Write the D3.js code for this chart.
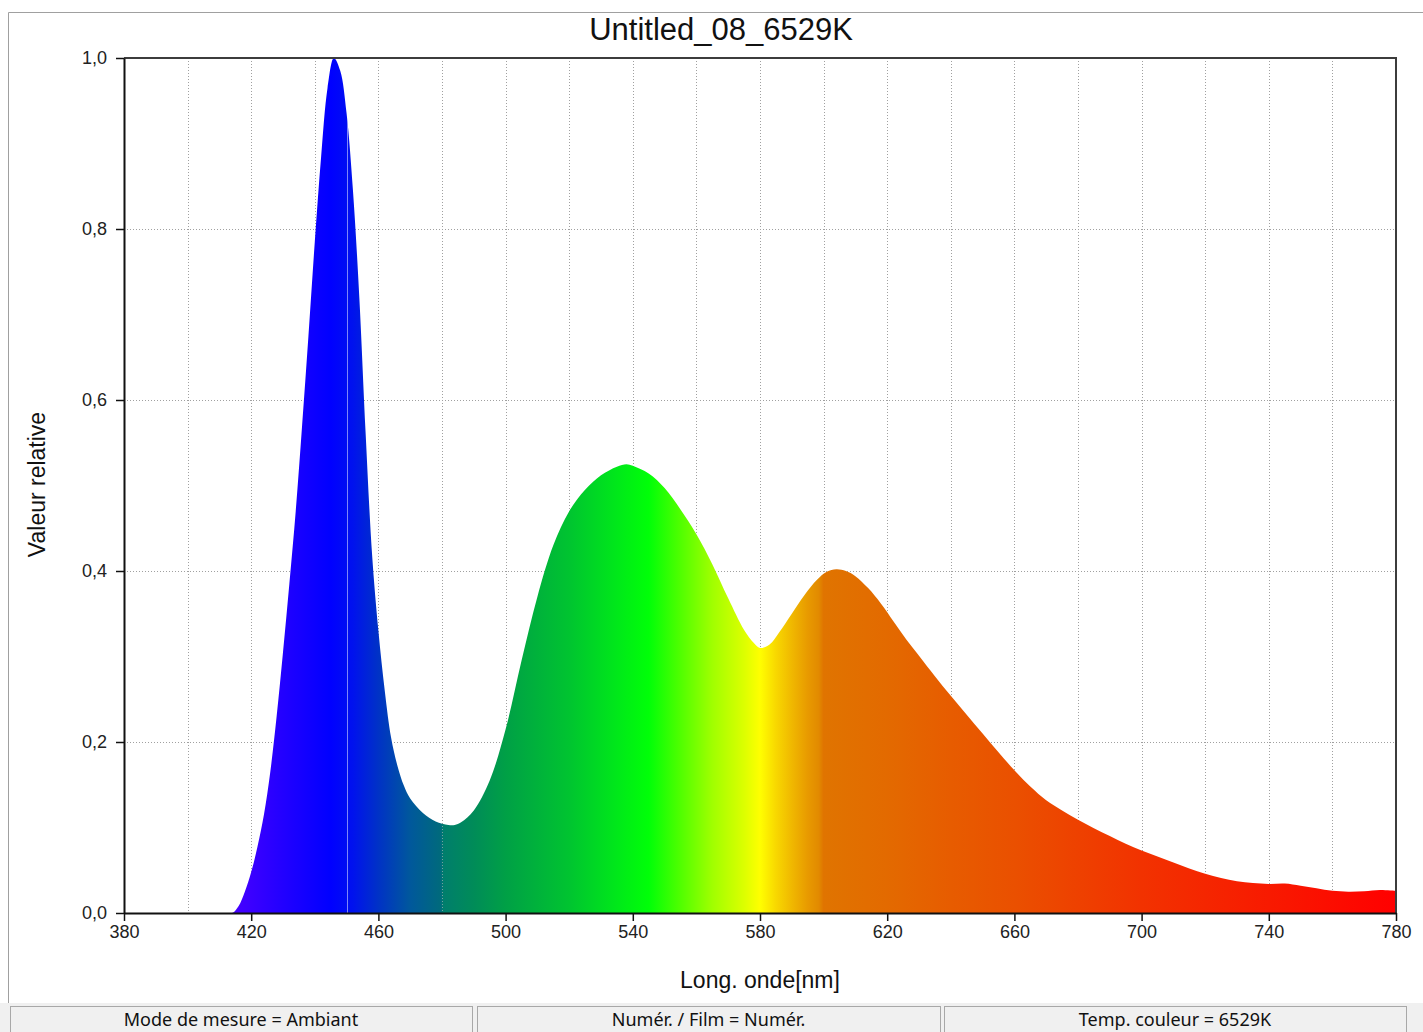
<!DOCTYPE html>
<html>
<head>
<meta charset="utf-8">
<script src="https://cdn.jsdelivr.net/npm/d3@7"></script>
<style>
  html, body { margin: 0; padding: 0; background: #fff; }
  svg { display: block; }
</style>
</head>
<body>
<svg id="chart" width="1423" height="1032"></svg>
<script>
// Spectral power distribution, relative to the blue peak
const wavelengths = [
  380, 400, 410, 414, 416, 418, 420, 422, 424, 426, 428, 430, 432, 434, 436, 438, 440,
  442, 444, 446, 448, 450, 452, 454, 456, 458, 460, 462, 464, 466, 468, 470,
  474, 478, 482, 484, 486, 490, 495, 500, 505, 510, 515, 520, 525, 530, 535, 538,
  540, 545, 550, 555, 560, 565, 570, 575, 578, 580, 583, 586, 590, 594, 598, 601,
  604, 607, 610, 614, 618, 622, 626, 630, 635, 640, 645, 650, 655, 660, 665, 670,
  675, 680, 685, 690, 695, 700, 705, 710, 715, 720, 725, 730, 735, 740, 745, 750,
  755, 760, 765, 770, 775, 780
];
const relativeValues = [
  0, 0, 0, 0, 0.008, 0.025, 0.048, 0.078, 0.115, 0.165, 0.23, 0.305, 0.385, 0.47, 0.57, 0.675, 0.785,
  0.885, 0.965, 1.0, 0.985, 0.935, 0.845, 0.72, 0.56, 0.42, 0.33, 0.26, 0.205, 0.172, 0.149, 0.134,
  0.117, 0.107, 0.103, 0.103, 0.106, 0.12, 0.155, 0.215, 0.295, 0.37, 0.43, 0.47, 0.495, 0.512, 0.522, 0.525,
  0.523, 0.514, 0.497, 0.472, 0.443, 0.408, 0.368, 0.331, 0.316, 0.31, 0.314, 0.328, 0.35, 0.372, 0.39, 0.399,
  0.402, 0.4, 0.394, 0.38, 0.362, 0.341, 0.32, 0.301, 0.277, 0.254, 0.232, 0.21, 0.188, 0.167, 0.148, 0.132,
  0.12, 0.109, 0.099, 0.09, 0.081, 0.073, 0.066, 0.059, 0.052, 0.046, 0.041, 0.037, 0.035, 0.034, 0.0345, 0.032,
  0.029, 0.026, 0.025, 0.0255, 0.027, 0.026
];

const xTickValues = [380, 420, 460, 500, 540, 580, 620, 660, 700, 740, 780];
const xGridValues = [400, 420, 440, 460, 480, 500, 520, 540, 560, 580, 600, 620, 640, 660, 680, 700, 720, 740, 760];
const yTickValues = [0, 0.2, 0.4, 0.6, 0.8, 1.0];
const yGridValues = [0.2, 0.4, 0.6, 0.8];

const chartTitle = "Untitled_08_6529K";
const xAxisTitle = "Long. onde[nm]";
const yAxisTitle = "Valeur relative";
const statusItems = ["Mode de mesure = Ambiant", "Numér. / Film = Numér.", "Temp. couleur = 6529K"];

// Visible-spectrum colour ramp used to fill the curve
const rampWavelengths = [380, 414, 420, 430, 445, 452, 460, 470, 479.5, 480.5, 490, 500, 520, 535, 545, 555, 565, 575, 580, 585, 590, 595, 598.5, 600, 620, 640, 660, 700, 740, 780];
const rampColors = ["#6000ff", "#4800ff", "#3a00ff", "#2200ff", "#0000ff", "#0012ee", "#0032c6", "#00589c", "#006a7c", "#007e6c", "#008c58", "#00a046", "#00c430", "#00e81a", "#00ff08", "#50ff00", "#a0ff00", "#dcff00", "#ffff00", "#f8d800", "#f0b800", "#e89a00", "#e28a00", "#e07400", "#e36a00", "#e75c00", "#ea5000", "#f23200", "#f81a00", "#ff0000"];

const svg = d3.select("#chart");
const W = 1423, H = 1032;
const plot = { left: 124, right: 1396, top: 58, bottom: 913 };

const x = d3.scaleLinear().domain([380, 780]).range([plot.left, plot.right]);
const y = d3.scaleLinear().domain([0, 1]).range([plot.bottom, plot.top]);

const series = wavelengths.map((w, i) => [w, relativeValues[i]]);
const fmt = v => d3.format(".1f")(v).replace(".", ",");
const chartFont = "'Liberation Sans', Arial, sans-serif";

// Outer window frame
svg.append("line").attr("x1", 8.5).attr("x2", W).attr("y1", 12.5).attr("y2", 12.5)
  .attr("stroke", "#a0a0a0").attr("stroke-width", 1);
svg.append("line").attr("x1", 8.5).attr("x2", 8.5).attr("y1", 12.5).attr("y2", 1004)
  .attr("stroke", "#a0a0a0").attr("stroke-width", 1);

// Gradient definition
const defs = svg.append("defs");
const grad = defs.append("linearGradient").attr("id", "spectrum")
  .attr("gradientUnits", "userSpaceOnUse")
  .attr("x1", x(380)).attr("x2", x(780)).attr("y1", 0).attr("y2", 0);
rampWavelengths.forEach((w, i) => {
  grad.append("stop").attr("offset", (w - 380) / 400).attr("stop-color", rampColors[i]);
});

const area = d3.area()
  .x(d => x(d[0]))
  .y0(y(0))
  .y1(d => Math.min(y(0), y(d[1])))
  .curve(d3.curveCatmullRom.alpha(0.5));

defs.append("clipPath").attr("id", "areaClip")
  .append("path").attr("d", area(series));

// Grid
const grid = svg.append("g").attr("stroke", "#a0a0a0").attr("stroke-width", 1)
  .attr("stroke-dasharray", "1,2");
grid.selectAll("line.v").data(xGridValues).join("line").attr("class", "v")
  .attr("x1", d => Math.round(x(d)) + 0.5).attr("x2", d => Math.round(x(d)) + 0.5)
  .attr("y1", plot.top).attr("y2", plot.bottom);
grid.selectAll("line.h").data(yGridValues).join("line").attr("class", "h")
  .attr("x1", plot.left).attr("x2", plot.right)
  .attr("y1", d => Math.round(y(d)) + 0.5).attr("y2", d => Math.round(y(d)) + 0.5);

// Spectrum fill
svg.append("path").attr("d", area(series)).attr("fill", "url(#spectrum)");

// Seams inside the fill
const seams = svg.append("g").attr("clip-path", "url(#areaClip)");
seams.append("line")
  .attr("x1", Math.round(x(450)) + 0.5).attr("x2", Math.round(x(450)) + 0.5)
  .attr("y1", plot.top).attr("y2", plot.bottom)
  .attr("stroke", "rgba(255,255,255,0.5)").attr("stroke-width", 1);
seams.append("line")
  .attr("x1", Math.round(x(480)) + 0.5).attr("x2", Math.round(x(480)) + 0.5)
  .attr("y1", plot.top).attr("y2", plot.bottom)
  .attr("stroke", "rgba(190,190,190,0.6)").attr("stroke-width", 1).attr("stroke-dasharray", "1,2");

// Frame: top and right
svg.append("path")
  .attr("d", `M${plot.left},${plot.top}H${plot.right}V${plot.bottom}`)
  .attr("fill", "none").attr("stroke", "#3c3c3c").attr("stroke-width", 2);

// Axes
const xAxis = d3.axisBottom(x).tickValues(xTickValues).tickSize(8).tickPadding(4).tickSizeOuter(0)
  .tickFormat(d3.format("d"));
const gx = svg.append("g").attr("transform", `translate(0,${plot.bottom})`).call(xAxis);
gx.select(".domain").attr("stroke", "#111").attr("stroke-width", 2);
gx.selectAll(".tick line").attr("stroke", "#111").attr("stroke-width", 1.5);
gx.selectAll(".tick text").attr("font-family", chartFont)
  .attr("font-size", 18).attr("fill", "#222");

const yAxis = d3.axisLeft(y).tickValues(yTickValues).tickSize(8).tickPadding(9).tickSizeOuter(0)
  .tickFormat(fmt);
const gy = svg.append("g").attr("transform", `translate(${plot.left},0)`).call(yAxis);
gy.select(".domain").attr("stroke", "#111").attr("stroke-width", 2);
gy.selectAll(".tick line").attr("stroke", "#111").attr("stroke-width", 1.5);
gy.selectAll(".tick text").attr("font-family", chartFont)
  .attr("font-size", 18).attr("fill", "#222");

// Titles
svg.append("text").attr("x", 721).attr("y", 40)
  .attr("text-anchor", "middle").attr("font-family", chartFont)
  .attr("font-size", 31).attr("fill", "#111").text(chartTitle);
svg.append("text").attr("x", (plot.left + plot.right) / 2).attr("y", 988)
  .attr("text-anchor", "middle").attr("font-family", chartFont)
  .attr("font-size", 23).attr("fill", "#111").text(xAxisTitle);
svg.append("text").attr("transform", `translate(45,${(plot.top + plot.bottom) / 2 - 1}) rotate(-90)`)
  .attr("text-anchor", "middle").attr("font-family", chartFont)
  .attr("font-size", 23).attr("fill", "#111").text(yAxisTitle);

// Status bar
svg.append("rect").attr("x", 0).attr("y", 1003).attr("width", W).attr("height", H - 1003).attr("fill", "#f0f0f0");
const boxes = [[10, 472], [477, 940], [944, 1406]];
const sb = svg.append("g");
boxes.forEach((b, i) => {
  sb.append("rect").attr("x", b[0] + 0.5).attr("y", 1006.5).attr("width", b[1] - b[0]).attr("height", 40)
    .attr("fill", "#f0f0f0").attr("stroke", "#a8a8a8").attr("stroke-width", 1);
  sb.append("text").attr("x", (b[0] + b[1]) / 2).attr("y", 1026)
    .attr("text-anchor", "middle").attr("font-family", "'Noto Sans', 'Open Sans', sans-serif")
    .attr("font-size", 18).attr("fill", "#111").text(statusItems[i]);
});
</script>
</body>
</html>
